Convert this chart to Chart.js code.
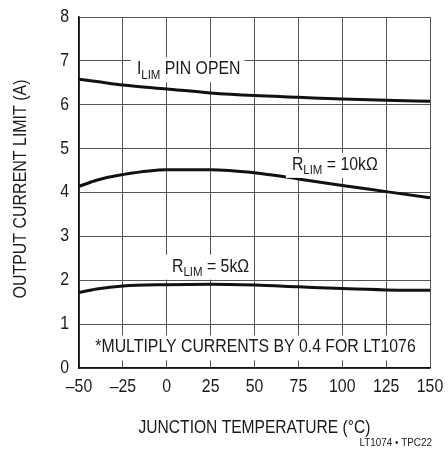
<!DOCTYPE html>
<html>
<head>
<meta charset="utf-8">
<script src="https://cdn.jsdelivr.net/npm/chart.js@4/dist/chart.umd.min.js"></script>
<style>
  html, body { margin: 0; padding: 0; background: #fff; }
  #wrap { width: 448px; height: 449px; }
</style>
</head>
<body>
<div id="wrap"><canvas id="chart" width="448" height="449"></canvas></div>
<script>
const FONT = '"Liberation Sans", Arial, sans-serif';

// junction temperature (°C)
const temps = [-50, -40, -25, 0, 25, 50, 75, 100, 125, 150];
// output current limit (A)
const pinOpen = [6.58, 6.53, 6.45, 6.36, 6.27, 6.21, 6.17, 6.13, 6.10, 6.08];
const rlim10k = [4.14, 4.28, 4.41, 4.52, 4.52, 4.45, 4.31, 4.16, 4.02, 3.88];
const rlim5k = [1.72, 1.80, 1.87, 1.90, 1.91, 1.89, 1.85, 1.81, 1.78, 1.77];
const xTicks = [-50, -25, 0, 25, 50, 75, 100, 125, 150];
const yTicks = [0, 1, 2, 3, 4, 5, 6, 7, 8];

const pts = arr => temps.map((t, i) => ({ x: t, y: arr[i] }));

// labels drawn on the plot, with a white box behind them
const notes = [
  { x: -17, y: 6.81, parts: [['I', 0], ['LIM', 1], [' PIN OPEN', 0]] },
  { x: 71.3, y: 4.63, parts: [['R', 0], ['LIM', 1], [' = 10kΩ', 0]] },
  { x: 3, y: 2.31, parts: [['R', 0], ['LIM', 1], [' = 5kΩ', 0]] },
  { x: -40.7, y: 0.47, parts: [['*MULTIPLY CURRENTS BY 0.4 FOR LT1076', 0]] }
];

// squeezed text, the original uses a condensed face
function narrow(ctx, text, x, y, size, sx, align) {
  ctx.font = size + 'px ' + FONT;
  const w = ctx.measureText(text).width * sx;
  let x0 = x;
  if (align === 'center') x0 = x - w / 2;
  if (align === 'right') x0 = x - w;
  ctx.save();
  ctx.translate(x0, y);
  ctx.scale(sx, 1);
  ctx.textAlign = 'left';
  ctx.fillText(text, 0, 0);
  ctx.restore();
  return w;
}

const textPlugin = {
  id: 'texts',
  afterDraw(chart) {
    const ctx = chart.ctx;
    const xs = chart.scales.x, ys = chart.scales.y;
    const a = chart.chartArea;
    ctx.save();
    ctx.textBaseline = 'middle';
    ctx.fillStyle = '#1a1a1a';

    // tick labels
    xTicks.forEach(v => {
      narrow(ctx, (v < 0 ? '–' + Math.abs(v) : '' + v), xs.getPixelForValue(v), a.bottom + 19, 18, 0.88, 'center');
    });
    yTicks.forEach(v => {
      narrow(ctx, '' + v, a.left - 10, ys.getPixelForValue(v), 18, 0.88, 'right');
    });

    // axis titles
    narrow(ctx, 'JUNCTION TEMPERATURE (°C)', (a.left + a.right) / 2, 428, 19, 0.82, 'center');
    ctx.save();
    ctx.translate(21, 189);
    ctx.rotate(-Math.PI / 2);
    narrow(ctx, 'OUTPUT CURRENT LIMIT (A)', 0, 0, 19, 0.84, 'center');
    ctx.restore();

    narrow(ctx, 'LT1074 • TPC22', a.right + 2, 443, 11, 0.9, 'right');
    ctx.restore();
  },
  afterDatasetsDraw(chart) {
    const ctx = chart.ctx;
    const xs = chart.scales.x, ys = chart.scales.y;
    const sx = 0.88;
    ctx.save();
    ctx.textBaseline = 'middle';
    notes.forEach(n => {
      let w = 0;
      n.parts.forEach(p => {
        ctx.font = (p[1] ? 13 : 18) + 'px ' + FONT;
        w += ctx.measureText(p[0]).width * sx;
      });
      const x0 = xs.getPixelForValue(n.x);
      const yc = ys.getPixelForValue(n.y);
      ctx.fillStyle = '#fff';
      ctx.fillRect(x0 - 6, yc - 12, w + 10, 25);
      ctx.fillStyle = '#1a1a1a';
      let x = x0;
      n.parts.forEach(p => {
        x += narrow(ctx, p[0], x, p[1] ? yc + 6 : yc, p[1] ? 13 : 18, sx, 'left');
      });
    });
    ctx.restore();
  }
};

const line = (data) => ({
  data: pts(data),
  borderColor: '#111',
  borderWidth: 3,
  pointRadius: 0,
  fill: false,
  cubicInterpolationMode: 'monotone'
});

new Chart(document.getElementById('chart'), {
  type: 'line',
  data: { datasets: [line(pinOpen), line(rlim10k), line(rlim5k)] },
  options: {
    responsive: false,
    animation: false,
    layout: { padding: { top: 17, right: 18, bottom: 0, left: 0 } },
    plugins: { legend: { display: false }, tooltip: { enabled: false } },
    scales: {
      x: {
        type: 'linear', min: -50, max: 150,
        afterBuildTicks: s => { s.ticks = xTicks.map(v => ({ value: v })); },
        afterFit: s => { s.height = 81; },
        grid: { color: '#555', lineWidth: 1, drawTicks: false },
        border: { color: '#111', width: 1.5 },
        ticks: { display: false }
      },
      y: {
        min: 0, max: 8,
        afterBuildTicks: s => { s.ticks = yTicks.map(v => ({ value: v })); },
        afterFit: s => { s.width = 79; },
        grid: { color: '#555', lineWidth: 1, drawTicks: false },
        border: { color: '#111', width: 1.5 },
        ticks: { display: false }
      }
    }
  },
  plugins: [textPlugin]
});
</script>
</body>
</html>
